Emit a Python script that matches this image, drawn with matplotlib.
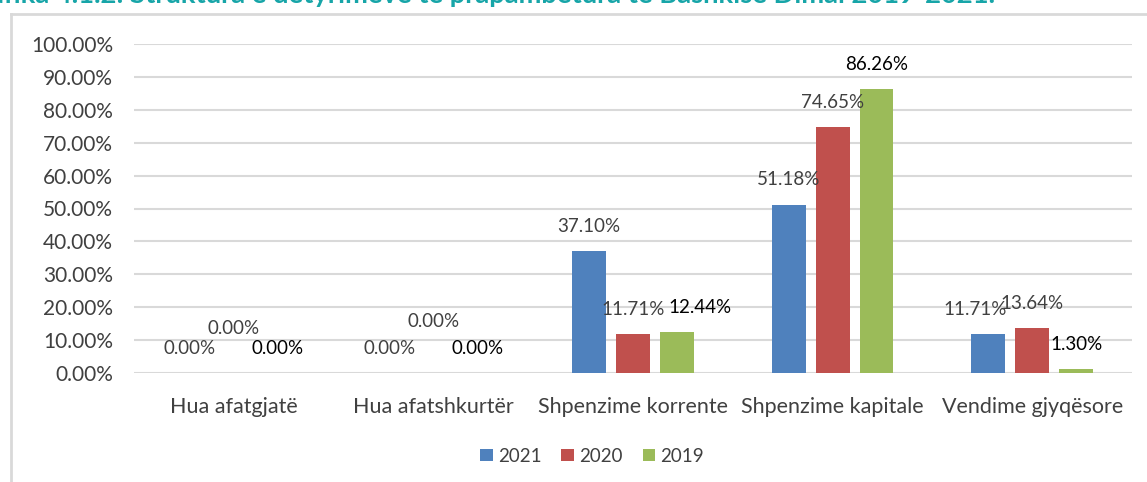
import numpy as np
import matplotlib.pyplot as plt

# te dhenat
kategorite = ["Hua afatgjatë", "Hua afatshkurtër", "Shpenzime korrente",
              "Shpenzime kapitale", "Vendime gjyqësore"]
vitet = ["2021", "2020", "2019"]
v2021 = [0.00, 0.00, 37.10, 51.18, 11.71]
v2020 = [0.00, 0.00, 11.71, 74.65, 13.64]
v2019 = [0.00, 0.00, 12.44, 86.26, 1.30]
yticks = [0, 10, 20, 30, 40, 50, 60, 70, 80, 90, 100]

ngjyrat = ["#4F81BD", "#C0504D", "#9BBB59"]
ngjyra_tekst = ["#404040", "#404040", "#000000"]
titulli = "Grafika 4.1.2: Struktura e detyrimeve të prapambetura të Bashkisë Dimal 2019-2021."

plt.rcParams['font.family'] = ['Lato', 'DejaVu Sans']

fig = plt.figure(figsize=(11.47, 4.82), dpi=100)
ax = fig.add_axes([134/1147, 1 - 373/482, (1132-134)/1147, (373-44)/482])

x = np.arange(len(kategorite))
w = 0.17
hap = 0.22
seri = [v2021, v2020, v2019]

# levizje manuale te etiketave (pike), si ne Excel
nudge = {(1, 0): (0, 14.5), (1, 1): (0, 19.5),
         (2, 2): (16.5, 0), (0, 4): (-9.5, 0)}

for i, vals in enumerate(seri):
    pos = x + (i - 1) * hap
    ax.bar(pos, vals, width=w, color=ngjyrat[i], label=vitet[i], zorder=3)
    for j, v in enumerate(vals):
        dx, dy = nudge.get((i, j), (0, 0))
        ax.annotate(f"{v:.2f}%", (pos[j], v), xytext=(dx, 17.8 + dy),
                    textcoords="offset points", ha="center", va="center",
                    fontsize=13.5, color=ngjyra_tekst[i], zorder=4)

ax.set_xlim(-0.5, len(kategorite) - 0.5)
ax.set_ylim(0, 100)
ax.set_yticks(yticks)
ax.set_yticklabels([f"{t:.2f}%" for t in yticks], fontsize=15, color="#404040")
ax.set_xticks(x)
ax.set_xticklabels(kategorite, fontsize=15.5, color="#404040")
ax.tick_params(length=0)
ax.tick_params(axis='y', pad=15)
ax.tick_params(axis='x', pad=17)
ax.grid(axis="y", color="#D9D9D9", linewidth=1.5, zorder=0)
for s in ax.spines.values():
    s.set_visible(False)

leg = fig.legend(loc="center", bbox_to_anchor=(592/1147, 1 - 456/482), ncol=3,
                 frameon=False, fontsize=13.5, handlelength=0.67, handleheight=0.67,
                 handletextpad=0.27, columnspacing=1.07, labelcolor="#404040")

# korniza gri e grafikut
fig.add_artist(plt.Line2D([11/1147, 11/1147], [0, 1 - 14/482], color="#D9D9D9", lw=2))
fig.add_artist(plt.Line2D([11/1147, 1], [1 - 14/482, 1 - 14/482], color="#D9D9D9", lw=2))

# titulli i prere ne krye
fig.text(995/1147, 1 - 3/482, titulli, ha="right", va="baseline",
         fontsize=19.7, fontweight="bold", color="#17A5A8")

fig.savefig("out.png", dpi=100)
